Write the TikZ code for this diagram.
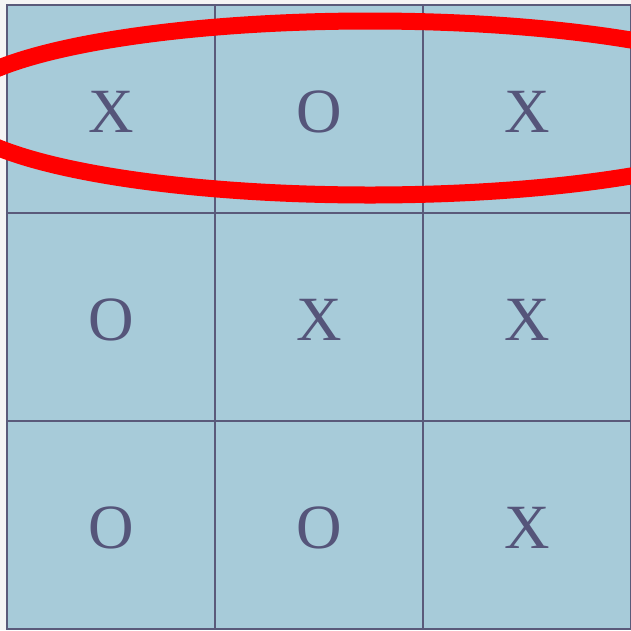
\documentclass[tikz,border=0pt]{standalone}
\usepackage{fontspec}
\setmainfont{Liberation Serif}
\definecolor{cellfill}{HTML}{A7CBD9}
\definecolor{gridline}{HTML}{5A5A7A}
\definecolor{marktext}{HTML}{55557A}
\definecolor{bgpaper}{HTML}{F4F4F4}
\begin{document}
\begin{tikzpicture}[x=1pt,y=1pt,
  cell/.style={draw=gridline, line width=2pt, fill=cellfill, minimum width=208pt, minimum height=208pt,
    inner sep=0pt, text=marktext, text height=48pt, text depth=0pt, font=\fontsize{63}{63}\selectfont},
  ring/.style={draw=red, line width=17pt}]
\useasboundingbox (0,0) rectangle (631,-630);
\clip (0,0) rectangle (631,-630);
\fill[bgpaper] (0,0) rectangle (631,-630);
\node[cell] (c11) at (111,-108.5) {X};
\node[cell] (c12) at (319,-108.5) {O};
\node[cell] (c13) at (527,-108.5) {X};
\node[cell] (c21) at (111,-316.5) {O};
\node[cell] (c22) at (319,-316.5) {X};
\node[cell] (c23) at (527,-316.5) {X};
\node[cell] (c31) at (111,-524.5) {O};
\node[cell] (c32) at (319,-524.5) {O};
\node[cell] (c33) at (527,-524.5) {X};
\draw[ring] (370,-108) ellipse [x radius=418, y radius=87];
\end{tikzpicture}
\end{document}
